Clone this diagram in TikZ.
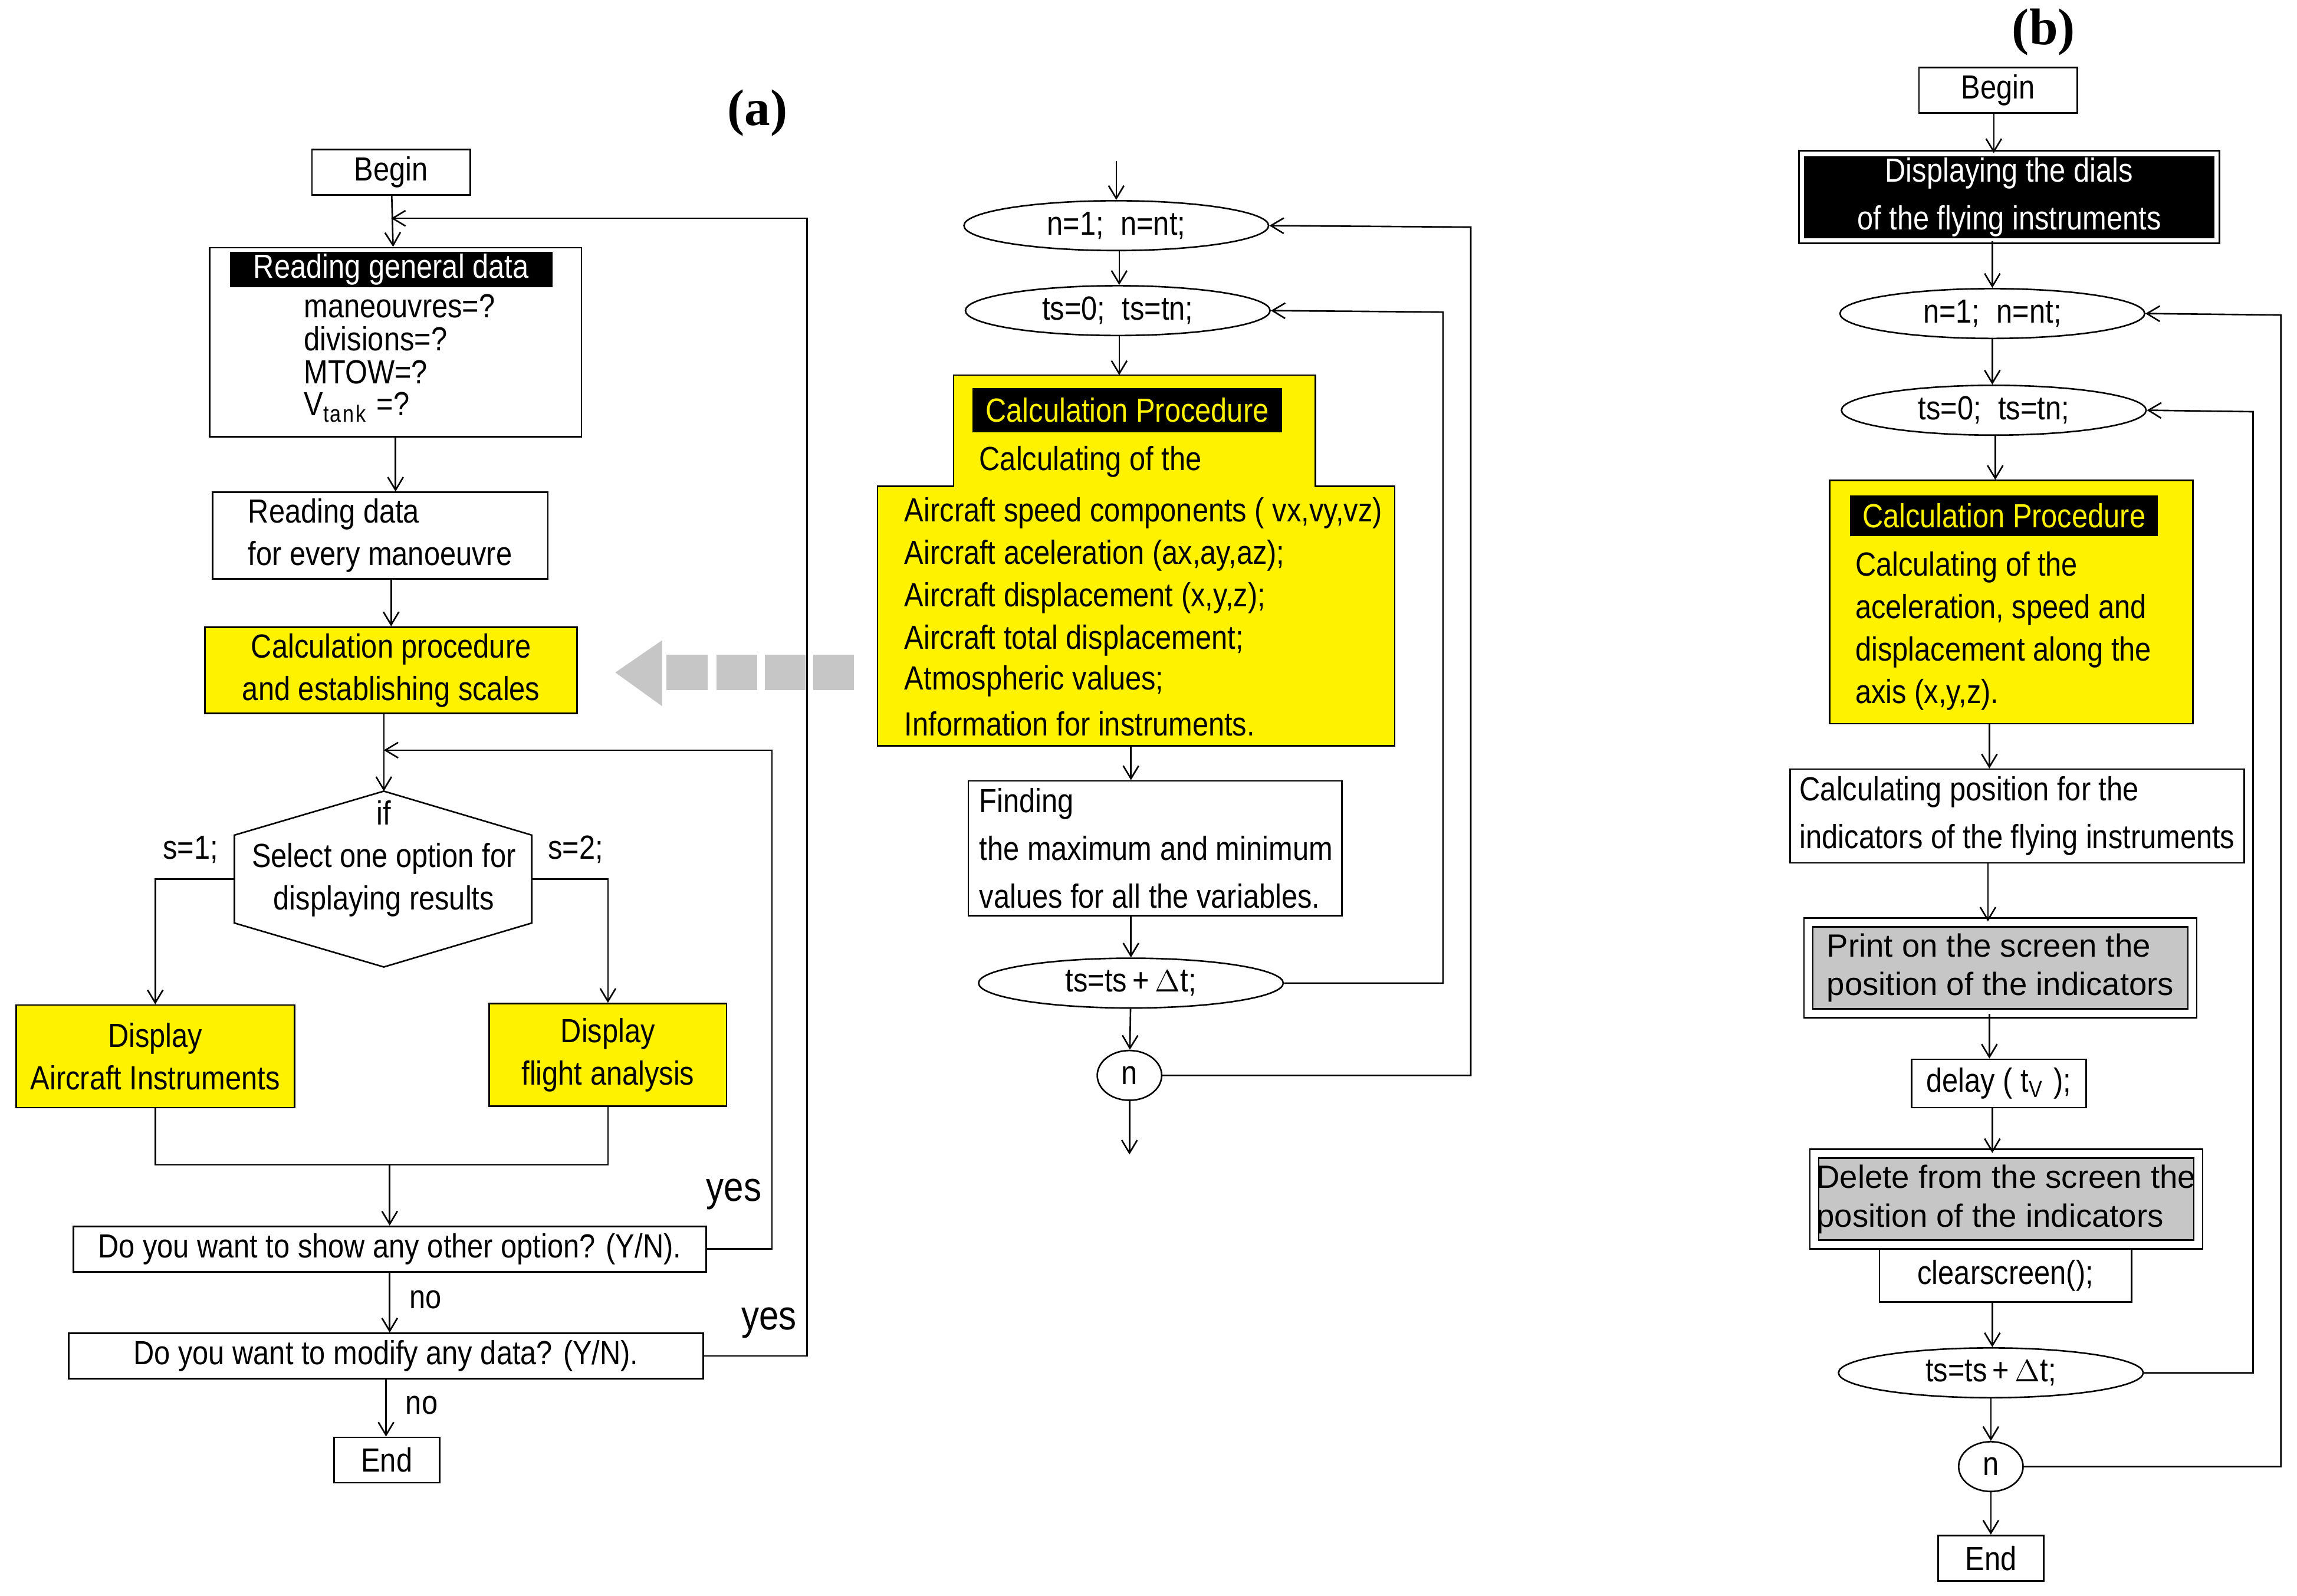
\documentclass[tikz,border=0pt]{standalone}
\usepackage{fontspec}
\setmainfont{Liberation Sans}[FakeStretch=0.86]
\newfontfamily\wideface{Liberation Sans}
\newfontfamily\serifface{Liberation Serif}
\usetikzlibrary{arrows.meta,shapes.geometric,positioning}

\begin{document}
\begin{tikzpicture}[x=0.02cm,y=-0.02cm,line width=0.6pt,
  font=\fontsize{13}{16.5}\selectfont,
  box/.style 2 args={draw,inner sep=0pt,align=center,minimum width=#1*0.02cm,minimum height=#2*0.02cm},
  oval/.style={draw,ellipse,inner sep=0pt,minimum width=4.16cm,minimum height=0.68cm},
  ncirc/.style={draw,ellipse,inner sep=0pt,minimum width=0.88cm,minimum height=0.68cm},
  hdr/.style 2 args={fill=black,inner sep=0pt,minimum width=#1*0.02cm,minimum height=#2*0.02cm},
  grey/.style={draw,double=white,double distance=0.1cm,fill=gray!45,font=\wideface\fontsize{12.5}{15}\selectfont},
  txt/.style={anchor=west,inner sep=0pt},
  tag/.style={font=\serifface\bfseries\fontsize{20}{20}\selectfont},
  arr/.style={-{Straight Barb[length=5pt,width=6pt]}}]
\useasboundingbox (0,0) rectangle (1568,1089);

% (a) main flow
\node[tag] (tagA) at (517,77) {(a)};
\node[box={108}{31}] (begA) at (267,117.5) {Begin};
\node[box={254}{129}] (genA) at (270,233.5) {};
\node[hdr={220}{24},text=white] (hdrA) at (267,184) {Reading general data};
\node[txt] (m1) at (207,209) {maneouvres=?};
\node[txt] (m2) at (207,231) {divisions=?};
\node[txt] (m3) at (207,254) {MTOW=?};
\node[txt] (m4) at (207,278) {V$_{\mathrm{tank}}$ =?};
\node[box={229}{59},align=left] (dataA) at (259.5,365.5) {Reading data\\for every manoeuvre};
\node[box={254}{59},fill=yellow] (calcA) at (267,457.5) {Calculation procedure\\and establishing scales};
\draw (160,570) -- (262,540) -- (363,570) -- (363,630) -- (262,660) -- (160,630) -- cycle;
\node[align=center,inner sep=0pt] (hexA) at (262,586) {if\\Select one option for\\displaying results};
\coordinate (hexL) at (160,600);
\coordinate (hexR) at (363,600);
\coordinate (hexT) at (262,540);
\node (s1) at (130,580) {s=1;};
\node (s2) at (393,580) {s=2;};
\node[box={190}{70},fill=yellow] (dispL) at (106,721) {Display\\Aircraft Instruments};
\node[box={162}{70},fill=yellow] (dispR) at (415,720) {Display\\flight analysis};
\node[box={432}{31}] (showA) at (266,852.5) {Do you want to show any other option? (Y/N).};
\node[box={433}{31}] (modA) at (263.5,925.5) {Do you want to modify any data? (Y/N).};
\node[box={72}{31}] (endA) at (264,996.5) {End};

\draw[arr] (begA) -- (genA);
\draw[arr] (genA) -- (dataA.north -| genA);
\draw[arr] (dataA.south -| calcA) -- (calcA);
\draw[arr] (calcA.south -| hexT) -- (hexT);
\draw[arr] (hexL) -| (dispL.north);
\draw[arr] (hexR) -| (dispR.north);
\draw (dispL.south) -- (106,795) -| (dispR.south);
\draw[arr] (266,795) -- (showA.north);
\draw[arr] (showA.south) -- (modA.north -| showA) node[pos=0.45,right=4pt] {no};
\draw[arr] (modA.south) -- (endA.north -| modA) node[pos=0.45,right=4pt] {no};
\draw[arr] (showA.east) -| (527,512) -- (262,512);
\draw[arr] (modA.east) -| (551,149) -- (267,149);
\node[font=\fontsize{16}{16}\selectfont] (yes1) at (501,815) {yes};
\node[font=\fontsize{16}{16}\selectfont] (yes2) at (525,903) {yes};

% grey hint arrow
\foreach \bx in {455,489,522,555}
  \fill[gray!45] (\bx,447) rectangle ++(28,24);
\fill[gray!45] (452,437) -- (420,459) -- (452,482) -- cycle;

% middle loop
\coordinate (inM) at (762,110);
\node[oval] (nM) at (762,154) {n=1;\enspace n=nt;};
\node[oval] (tsM) at (763,212) {ts=0;\enspace ts=tn;};
\draw[fill=yellow] (651,256) -- (898,256) -- (898,332) -- (952,332) -- (952,509)
  -- (599,509) -- (599,332) -- (651,332) -- cycle;
\coordinate (procTop) at (764,256);
\coordinate (procBot) at (772,509);
\node[hdr={211}{30},text=yellow] (hdrM) at (769.5,280) {Calculation Procedure};
\node[txt] (c0) at (668,315) {Calculating of the};
\foreach \ty/\tt in {350/{Aircraft speed components ( vx,vy,vz)},
  379/{Aircraft aceleration (ax,ay,az);},
  408/{Aircraft displacement (x,y,z);},
  437/{Aircraft total displacement;},
  465/{Atmospheric values;},
  494/{Information for instruments.}}
  \node[txt] at (617,\ty) {\tt};
\node[box={255}{92}] (findM) at (788.5,579) {};
\node[txt,align=left] (findT) at (668,579) {Finding\\[2pt]the maximum and minimum\\[2pt]values for all the variables.};
\node[oval] (incM) at (772,671) {ts=ts\,+\,$\Delta$t;};
\node[ncirc] (nCM) at (771,734) {n};
\coordinate (outM) at (771,788);
\draw[arr] (inM) -- (nM);
\draw[arr] (nM.south -| procTop) -- (tsM.north -| procTop);
\draw[arr] (tsM.south -| procTop) -- (procTop);
\draw[arr] (procBot) -- (findM.north -| procBot);
\draw[arr] (findM.south -| incM) -- (incM);
\draw[arr] (incM) -- (nCM);
\draw[arr] (nCM) -- (outM);
\draw[arr] (incM.east) -| (985,213) -- (tsM.east);
\draw[arr] (nCM.east) -| (1004,155) -- (nM.east);

% (b)
\node[tag] (tagB) at (1395,22) {(b)};
\node[box={108}{31}] (begB) at (1364,61.5) {Begin};
\node[box={283}{59},double=white,double distance=0.06cm,fill=black,text=white] (dialB) at (1371.5,134.5) {Displaying the dials\\[2pt]of the flying instruments};
\node[oval] (nB) at (1360,214) {n=1;\enspace n=nt;};
\node[oval] (tsB) at (1361,280) {ts=0;\enspace ts=tn;};
\node[box={248}{166},fill=yellow] (procB) at (1373,411) {};
\node[hdr={210}{28},text=yellow] (hdrB) at (1368,352) {Calculation Procedure};
\foreach \ty/\tt in {387/{Calculating of the},416/{aceleration, speed and},
  445/{displacement along the},474/{axis (x,y,z).}}
  \node[txt] at (1266,\ty) {\tt};
\node[box={310}{64},align=left] (posB) at (1377,557) {Calculating position for the\\[2pt]indicators of the flying instruments};
\node[box={262}{62},grey,align=left] (printB) at (1365.5,660.5) {Print on the screen the\\position of the indicators};
\node[box={119}{33}] (delayB) at (1364.5,739.5) {delay ( t$_{\mathrm{V}}$ );};
\node[box={172}{36},anchor=north] (clrB) at (1369,852) {clearscreen();};
\node[box={262}{62},grey,align=left] (delB) at (1369.5,818.5) {Delete from the screen the\\position of the indicators};
\node[oval] (incB) at (1359,937) {ts=ts\,+\,$\Delta$t;};
\node[ncirc] (nCB) at (1359,1001) {n};
\node[box={72}{31}] (endB) at (1359,1063.5) {End};
\draw[arr] (begB.south -| 1361,0) -- (dialB.north -| 1361,0);
\draw[arr] (dialB.south -| nB) -- (nB);
\draw[arr] (nB) -- (tsB.north -| nB);
\draw[arr] (tsB.south -| 1362,0) -- (procB.north -| 1362,0);
\draw[arr] (procB.south -| 1358,0) -- (posB.north -| 1358,0);
\draw[arr] (posB.south -| 1357,0) -- (printB.north -| 1357,0);
\draw[arr] (printB.south -| 1358,0) -- (delayB.north -| 1358,0);
\draw[arr] (delayB.south -| 1360,0) -- (delB.north -| 1360,0);
\draw[arr] (clrB.south -| 1360,0) -- (incB.north -| 1360,0);
\draw[arr] (incB) -- (nCB);
\draw[arr] (nCB) -- (endB);
\draw[arr] (incB.east) -| (1538,281) -- (tsB.east);
\draw[arr] (nCB.east) -| (1557,215) -- (nB.east);
\end{tikzpicture}
\end{document}
